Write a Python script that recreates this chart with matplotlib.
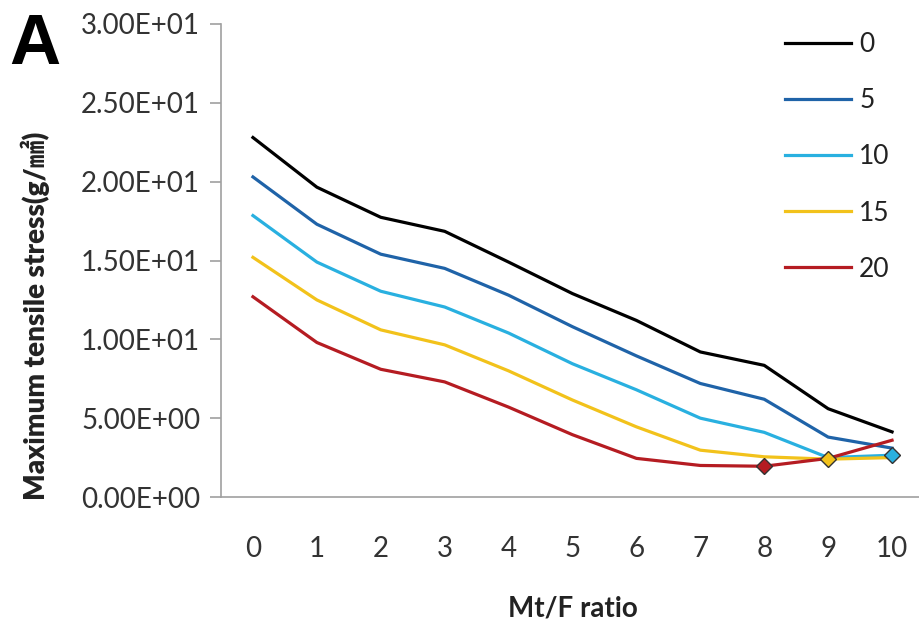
import matplotlib
matplotlib.use("Agg")
import matplotlib.pyplot as plt
from matplotlib.ticker import FuncFormatter

ratios = [0, 1, 2, 3, 4, 5, 6, 7, 8, 9, 10]
series_labels = ["0", "5", "10", "15", "20"]
s0 = [22.8, 19.65, 17.74, 16.85, 14.9, 12.9, 11.2, 9.2, 8.35, 5.6, 4.13]
s5 = [20.3, 17.3, 15.4, 14.5, 12.8, 10.8, 8.95, 7.2, 6.2, 3.8, 3.1]
s10 = [17.85, 14.9, 13.05, 12.05, 10.4, 8.45, 6.8, 5.0, 4.1, 2.5, 2.65]
s15 = [15.2, 12.5, 10.6, 9.65, 8.0, 6.15, 4.45, 2.97, 2.55, 2.4, 2.5]
s20 = [12.7, 9.8, 8.1, 7.3, 5.7, 3.95, 2.45, 2.0, 1.95, 2.45, 3.6]
marker_idx = [None, None, 10, 9, 8]
colors = ["#000000", "#1F63A8", "#29B0E0", "#F2C21B", "#B51C22"]
yticks = [0, 5, 10, 15, 20, 25, 30]

plt.rcParams['font.family'] = ['Lato', 'Noto Sans CJK SC', 'DejaVu Sans']

fig = plt.figure(figsize=(9.2, 6.28), dpi=100)
ax = fig.add_axes([221/920, 131/628, 703/920, 473/628])

all_series = [s0, s5, s10, s15, s20]
for vals, lab, c in zip(all_series, series_labels, colors):
    ax.plot(ratios, vals, color=c, lw=2.3, label=lab, solid_joinstyle='round')
for vals, c, mi in zip(all_series, colors, marker_idx):
    if mi is not None:
        ax.plot([ratios[mi]], [vals[mi]], marker='D', ms=8.5, color=c,
                markeredgecolor='#333333', markeredgewidth=1.0, linestyle='none', zorder=5)

ax.set_xlim(-0.5, 10.5)
ax.set_ylim(0, 30)
ax.set_yticks(yticks)
ax.yaxis.set_major_formatter(FuncFormatter(lambda v, p: f"{v:.2E}"))
ax.set_xticks(ratios)
ax.set_xticklabels([str(r) for r in ratios])

for side in ['top', 'right']:
    ax.spines[side].set_visible(False)
for side in ['left', 'bottom']:
    ax.spines[side].set_color('#A0A0A0')
    ax.spines[side].set_linewidth(1.2)

ax.tick_params(axis='y', length=8, width=1.2, color='#A0A0A0', labelsize=20,
               labelcolor='#333333', pad=7)
ax.tick_params(axis='x', length=0, labelsize=20, labelcolor='#333333', pad=28)

ax.set_xlabel("Mt/F ratio", fontsize=20, fontweight='bold', color='#222222', labelpad=24)
ax.set_ylabel("Maximum tensile stress(g/㎟)", fontsize=20, fontweight='heavy',
              color='#222222')
ax.yaxis.set_label_coords(-0.243, 0.383)

leg = ax.legend(loc='upper right', bbox_to_anchor=(0.985, 1.033), frameon=False,
                fontsize=19, handlelength=2.5, handletextpad=0.3, labelspacing=1.18)
for t in leg.get_texts():
    t.set_color('#222222')

fig.text(9/920, 1 - 64/628, "A", fontsize=51, fontweight='bold',
         family='Liberation Sans', color='black', va='baseline')

fig.savefig("out.png", dpi=100)
